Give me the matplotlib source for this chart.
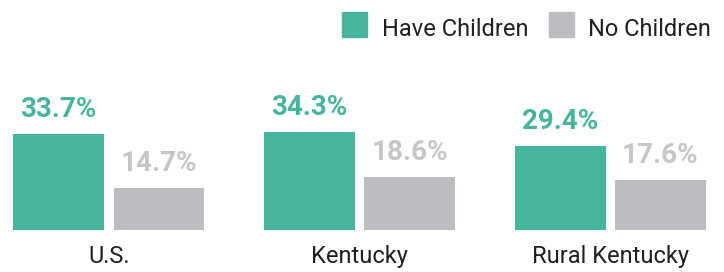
import matplotlib
matplotlib.use("Agg")
import matplotlib.pyplot as plt
from matplotlib.patches import Rectangle

categories = ["U.S.", "Kentucky", "Rural Kentucky"]
have_children = [33.7, 34.3, 29.4]
no_children = [14.7, 18.6, 17.6]
series_names = ["Have Children", "No Children"]

GREEN = "#47B59E"
GRAY = "#BCBDC0"
GRAY_TXT = "#C5C6C8"
DARK = "#231F20"

W, H = 724, 272
fig = plt.figure(figsize=(W/100, H/100), dpi=100)
ax = fig.add_axes([0, 0, 1, 1])
ax.set_axis_off()

spacing = 250.75
px_per_unit = 2.85
base_px = 42
ax.set_xlim(-109/spacing, (W-109)/spacing)
ax.set_ylim(-base_px/px_per_unit, (H-base_px)/px_per_unit)

bw = 91/spacing
off_g = -50.5/spacing
off_n = 50.0/spacing
font = "Roboto"
x = list(range(len(categories)))
ax.bar([i+off_g for i in x], have_children, width=bw, color=GREEN)
ax.bar([i+off_n for i in x], no_children, width=bw, color=GRAY)

gap = 17/px_per_unit
for i in x:
    ax.text(i+off_g, have_children[i]+gap, f"{have_children[i]:.1f}%", ha="center", va="baseline",
            fontsize=20, fontweight="bold", color=GREEN, family=font)
    ax.text(i+off_n, no_children[i]+gap, f"{no_children[i]:.1f}%", ha="center", va="baseline",
            fontsize=20, fontweight="bold", color=GRAY_TXT, family=font)
    ax.text(i, -(263-230)/px_per_unit, categories[i], ha="center", va="baseline",
            fontsize=17, color=DARK, family=font)

# legend
def px(xp, yp):
    return xp/W, 1-yp/H
for (x0, tx, name, col) in [(342, 382, series_names[0], GREEN), (549, 588, series_names[1], GRAY)]:
    fig.patches.append(Rectangle(px(x0, 37), 25/W, 25/H, transform=fig.transFigure, color=col))
    fx, fy = px(tx, 36)
    fig.text(fx, fy, name, ha="left", va="baseline", fontsize=17, color=DARK, family=font)

fig.savefig("out.png", dpi=100)
